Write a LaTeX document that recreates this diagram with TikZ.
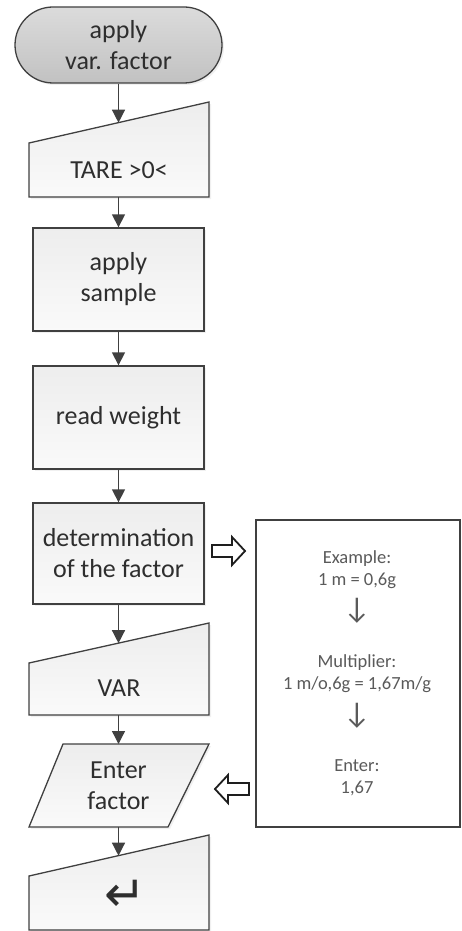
\documentclass[tikz,border=0pt]{standalone}
\usepackage{fontspec}
\setmainfont{Carlito}
\newfontfamily\symfont{DejaVu Sans}
\usetikzlibrary{arrows.meta,shapes.misc,shadows,calc}
\definecolor{lc}{HTML}{404040}
\definecolor{tc}{HTML}{2E2E2E}
\definecolor{nc}{HTML}{5A5A5A}
\definecolor{ac}{HTML}{1E1E1E}
\begin{document}
\begin{tikzpicture}[x=1pt,y=-1pt,
  fshape/.style={draw=lc, line width=1.3pt, top color=black!7, bottom color=black!2,
    drop shadow={shadow xshift=2pt,shadow yshift=-2pt,opacity=0.12}},
  lbl/.style={font=\fontsize{26}{31}\selectfont, text=tc, align=center, inner sep=0pt},
  note/.style={font=\fontsize{18.5}{22}\selectfont, text=nc, align=center, inner sep=0pt},
  flow/.style={draw=lc, line width=1.3pt, -{Triangle[length=13pt,width=13pt]}},
  barrow/.style={draw=ac, line width=1.8pt, fill=white, line join=miter}
]
\useasboundingbox (0,0) rectangle (462,931);

% terminal
\node[fshape, lbl, rounded rectangle, minimum width=207pt, minimum height=76pt,
  top color=black!14, bottom color=black!24] (start) at (118.5,45) {apply\\var. factor};

% TARE manual input
\path[fshape] (29,143) -- (209,102) -- (209,197) -- (29,197) -- cycle;
\node[lbl] (tare) at (119,170) {TARE >0<};
\coordinate (tarein) at (118.5,122.7);
\coordinate (tareout) at (118.5,197);

% process boxes
\node[fshape, lbl, minimum width=171pt, minimum height=103pt] (sample) at (118.5,279.5) {apply\\sample};
\node[fshape, lbl, minimum width=171pt, minimum height=103pt] (weight) at (118.5,417.5) {read weight};
\node[fshape, lbl, minimum width=171pt, minimum height=101pt] (determ) at (118.5,553.5) {determination\\of the factor};

% VAR manual input
\path[fshape] (29,663) -- (209,623) -- (209,715) -- (29,715) -- cycle;
\node[lbl] (var) at (119,688) {VAR};
\coordinate (varin) at (118.5,643.2);
\coordinate (varout) at (118.5,715);

% Enter factor data
\path[fshape] (63,744) -- (209,744) -- (168,827) -- (29,827) -- cycle;
\node[lbl] (enter) at (118.5,786) {Enter\\factor};
\coordinate (enterin) at (118.5,744);
\coordinate (enterout) at (118.5,827);

% final manual input
\path[fshape] (29,876) -- (209,835) -- (209,930) -- (29,930) -- cycle;
\node[lbl, font=\symfont\fontsize{50}{50}\selectfont] (ret) at (125,896) {↵};
\coordinate (retin) at (118.5,855.7);

% flow arrows
\draw[flow] (start.south) -- (tarein);
\draw[flow] (tareout) -- (sample.north);
\draw[flow] (sample.south) -- (weight.north);
\draw[flow] (weight.south) -- (determ.north);
\draw[flow] (determ.south) -- (varin);
\draw[flow] (varout) -- (enterin);
\draw[flow] (enterout) -- (retin);

% example box
\node[draw=lc, line width=1.3pt, fill=white, minimum width=204pt, minimum height=307pt, inner sep=0pt] (ex) at (358,673.5) {};
\node[note] (ex1) at (357,570) {Example:\\1 m = 0,6g};
\node[note, font=\fontsize{30}{30}\selectfont] (d1) at (357,611) {↓};
\node[note] (ex2) at (357,674) {Multiplier:\\1 m/o,6g = 1,67m/g};
\node[note, font=\fontsize{30}{30}\selectfont] (d2) at (357,716) {↓};
\node[note] (ex3) at (357,778) {Enter:\\1,67};

% block arrows
\path[barrow] (212,545) -- (232,545) -- (232,537) -- (245,551) -- (232,565) -- (232,557) -- (212,557) -- cycle;
\path[barrow] (249,783) -- (228,783) -- (228,775) -- (215,789) -- (228,803) -- (228,795) -- (249,795) -- cycle;
\end{tikzpicture}
\end{document}
